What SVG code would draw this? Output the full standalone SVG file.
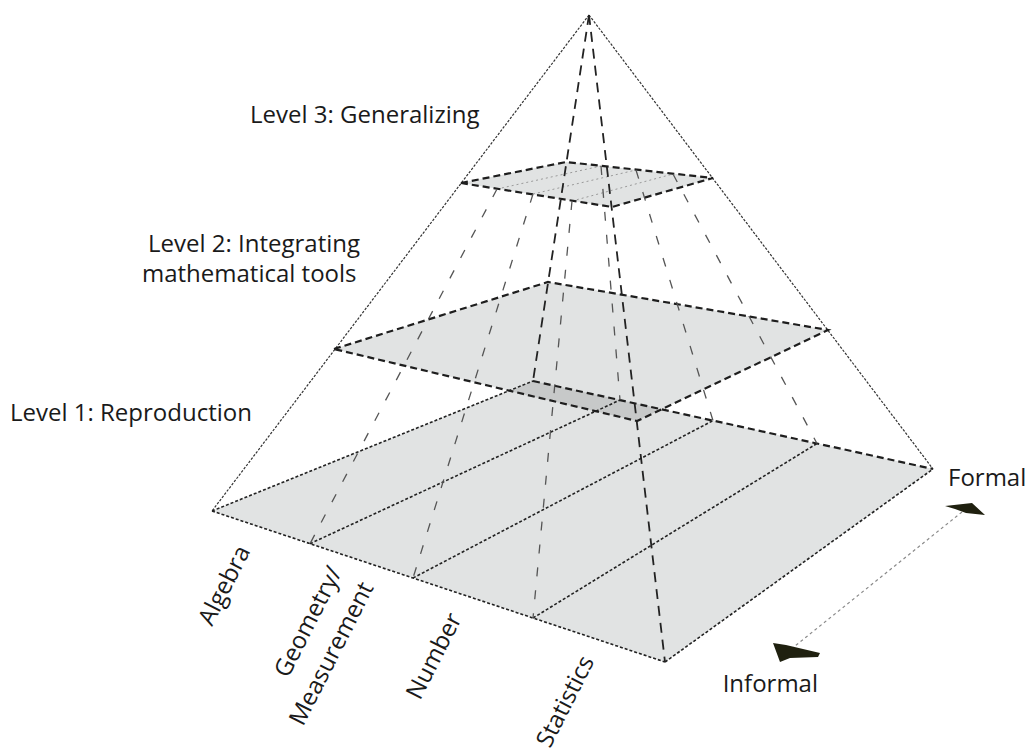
<svg xmlns="http://www.w3.org/2000/svg" width="1025" height="751" viewBox="0 0 1025 751">
<style>
  text { font-family: "Open Sans", "Noto Sans", "Liberation Sans", sans-serif; font-size: 24px; fill: #1a1a1a; }
  .plane { fill: #e1e3e3; stroke: none; }
  .overlap { fill: #c7c9c9; stroke: none; }
  .outer { fill: none; stroke: #333; stroke-width: 1.2; stroke-dasharray: 2.5 1.5; }
  .fine { fill: none; stroke: #222; stroke-width: 1.6; stroke-dasharray: 3 2; }
  .thick { fill: none; stroke: #1e1e1e; stroke-width: 2.2; stroke-dasharray: 7 4; }
  .long { fill: none; stroke: #222; stroke-width: 1.8; stroke-dasharray: 10 7; }
  .mid { fill: none; stroke: #555; stroke-width: 1.3; stroke-dasharray: 9 14; }
  .faint { fill: none; stroke: #9a9a9a; stroke-width: 1; stroke-dasharray: 2 3; }
  .arrowline { fill: none; stroke: #8a8a8a; stroke-width: 1.2; stroke-dasharray: 3 3; }
  .head { fill: #1f200f; stroke: none; }
</style>
<rect width="1025" height="751" fill="#ffffff"/>

<g id="level1">
  <polygon class="plane" points="212,511 533,381 933,469 665,662"/>
</g>
<g id="level2">
  <polygon class="plane" points="334,349 548,282 828,330 637,421"/>
  <polygon class="overlap" points="533,381 509,391 637,421 662,409"/>
</g>
<g id="level3">
  <polygon class="plane" points="461,183 566,162 713,178 612,207"/>
</g>

<g id="connectors">
  <line class="outer" x1="589" y1="15" x2="212" y2="511"/>
  <line class="outer" x1="589" y1="15" x2="933" y2="469"/>
  <line class="fine" x1="212" y1="511" x2="665" y2="662"/>
  <line class="fine" x1="665" y1="662" x2="933" y2="469"/>
  <line class="fine" x1="212" y1="511" x2="533" y2="381"/>
  <line class="fine" x1="310" y1="543.7" x2="620" y2="400"/>
  <line class="fine" x1="413" y1="578" x2="713" y2="420.6"/>
  <line class="fine" x1="533" y1="618" x2="817" y2="443.5"/>
  <line class="thick" x1="533" y1="381" x2="933" y2="469"/>
  <polygon class="thick" points="334,349 548,282 828,330 637,421"/>
  <line class="faint" x1="497" y1="189" x2="601" y2="166"/>
  <line class="faint" x1="533" y1="194" x2="636" y2="170"/>
  <line class="faint" x1="572" y1="201" x2="673" y2="174"/>
  <polygon class="thick" points="461,183 566,162 713,178 612,207"/>
  <line class="long" x1="589" y1="15" x2="533" y2="381"/>
  <line class="long" x1="589" y1="15" x2="665" y2="662"/>
  <line class="mid" x1="497" y1="189" x2="310" y2="543.7"/>
  <line class="mid" x1="533" y1="194" x2="413" y2="578"/>
  <line class="mid" x1="572" y1="201" x2="533" y2="618"/>
  <line class="mid" x1="601" y1="166" x2="620" y2="400"/>
  <line class="mid" x1="636" y1="170" x2="713" y2="420.6"/>
  <line class="mid" x1="673" y1="174" x2="817" y2="443.5"/>
  <line class="arrowline" x1="962" y1="512" x2="790" y2="650"/>
  <polygon class="head" points="945,506 972,503 985,515 966,513 955,509"/>
  <polygon class="head" points="773,643 786,645 820,653 818,657 790,658 780,662"/>
</g>

<g id="labels-levels">
  <text x="250" y="123">Level 3: Generalizing</text>
  <text x="148" y="252">Level 2: Integrating</text>
  <text x="142" y="282">mathematical tools</text>
  <text x="10" y="421">Level 1: Reproduction</text>
</g>
<g id="labels-axis">
  <text x="948" y="486">Formal</text>
  <text x="818" y="692" text-anchor="end">Informal</text>
</g>
<g id="labels-strands">
  <text transform="translate(212,627) rotate(-63)">Algebra</text>
  <text transform="translate(288,679) rotate(-63)">Geometry/</text>
  <text transform="translate(303,727) rotate(-63)">Measurement</text>
  <text transform="translate(420,701) rotate(-63)">Number</text>
  <text transform="translate(550,749) rotate(-63)">Statistics</text>
</g>
</svg>
